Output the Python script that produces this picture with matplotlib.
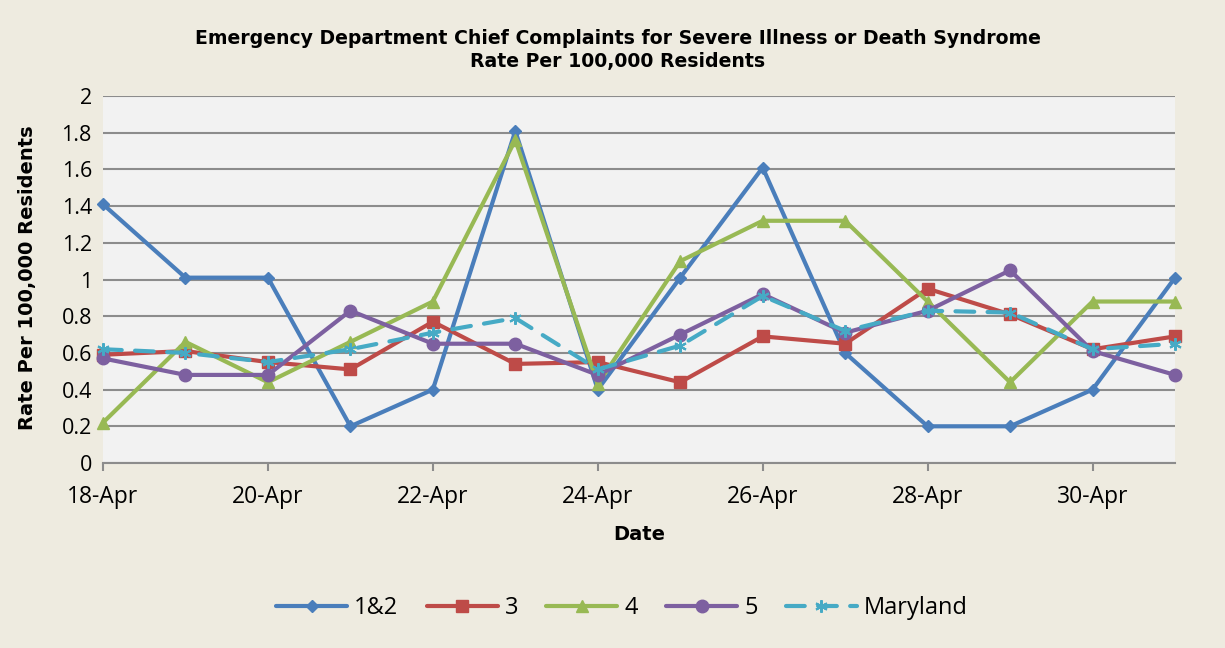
import matplotlib
matplotlib.use("Agg")
import matplotlib.pyplot as plt
import numpy as np

dates = ["18-Apr", "19-Apr", "20-Apr", "21-Apr", "22-Apr", "23-Apr", "24-Apr",
         "25-Apr", "26-Apr", "27-Apr", "28-Apr", "29-Apr", "30-Apr", "1-May"]
s12 = [1.41, 1.01, 1.01, 0.20, 0.40, 1.81, 0.40, 1.01, 1.61, 0.60, 0.20, 0.20, 0.40, 1.01]
s3 = [0.59, 0.61, 0.55, 0.51, 0.77, 0.54, 0.55, 0.44, 0.69, 0.65, 0.95, 0.81, 0.62, 0.69]
s4 = [0.22, 0.66, 0.44, 0.66, 0.88, 1.76, 0.43, 1.10, 1.32, 1.32, 0.88, 0.44, 0.88, 0.88]
s5 = [0.57, 0.48, 0.48, 0.83, 0.65, 0.65, 0.48, 0.70, 0.92, 0.71, 0.83, 1.05, 0.61, 0.48]
smd = [0.62, 0.60, 0.55, 0.62, 0.71, 0.79, 0.51, 0.64, 0.91, 0.72, 0.83, 0.82, 0.62, 0.65]
series_names = ["1&2", "3", "4", "5", "Maryland"]
yticks = [0, 0.2, 0.4, 0.6, 0.8, 1, 1.2, 1.4, 1.6, 1.8, 2]
ytick_labels = ["0", "0.2", "0.4", "0.6", "0.8", "1", "1.2", "1.4", "1.6", "1.8", "2"]

bg = "#EEEBE0"
fig = plt.figure(figsize=(12.25, 6.48), dpi=100, facecolor=bg)
ax = fig.add_axes([103/1225, 1-463/648, (1175-103)/1225, (463-96)/648])
ax.set_facecolor("#F2F2F2")

x = np.arange(len(dates))
styles = [
    dict(color="#4A7EBB", marker="D", ms=6),
    dict(color="#BE4B48", marker="s", ms=8),
    dict(color="#98B954", marker="^", ms=9),
    dict(color="#7D60A0", marker="o", ms=9),
    dict(color="#46AAC5", marker=(6, 2, 0), ms=9, ls=(0, (4.5, 3.2))),
]
data = [s12, s3, s4, s5, smd]
for vals, name, st in zip(data, series_names, styles):
    ls = st.pop("ls", "-")
    ax.plot(x, vals, lw=3, ls=ls, label=name, markeredgewidth=1.5 if name == "Maryland" else 1,
            markeredgecolor=st["color"], solid_capstyle="round", dash_capstyle="round",
            clip_on=False, zorder=3, **st)

ax.set_xlim(0, len(dates) - 1)
ax.set_ylim(0, 2)
ax.set_yticks(yticks)
ax.set_yticklabels(ytick_labels)
ax.set_xticks(x[::2])
ax.set_xticklabels(dates[::2])
ax.yaxis.grid(True, color="#8C8C8C", lw=1.5, zorder=1)
ax.set_axisbelow(True)
for s in ["left", "right", "top"]:
    ax.spines[s].set_visible(False)
ax.spines["bottom"].set_color("#8C8C8C")
ax.spines["bottom"].set_linewidth(1.5)
ax.tick_params(axis="y", length=0, pad=8, labelsize=15.5)
ax.tick_params(axis="x", length=6, width=1.5, color="#8C8C8C", pad=10, labelsize=16.5)
for lab in ax.get_xticklabels() + ax.get_yticklabels():
    lab.set_family("Open Sans")

fig.text(618/1225, 1-38/648, "Emergency Department Chief Complaints for Severe Illness or Death Syndrome",
         ha="center", va="center", fontsize=13.6, fontweight="bold", family="DejaVu Sans")
fig.text(618/1225, 1-62/648, "Rate Per 100,000 Residents",
         ha="center", va="center", fontsize=13.6, fontweight="bold", family="DejaVu Sans")
fig.text(28/1225, 1-278/648, "Rate Per 100,000 Residents", rotation=90,
         ha="center", va="center", fontsize=14, fontweight="bold", family="DejaVu Sans")
fig.text(639/1225, 1-535/648, "Date", ha="center", va="center",
         fontsize=14, fontweight="bold", family="DejaVu Sans")

leg = fig.legend(loc="center", bbox_to_anchor=(622/1225, 1-608/648), ncol=5, frameon=False,
                 handlelength=3.0, columnspacing=1.2, handletextpad=0.3,
                 prop={"family": "Open Sans", "size": 17})

fig.savefig("out.png", dpi=100, facecolor=bg)
